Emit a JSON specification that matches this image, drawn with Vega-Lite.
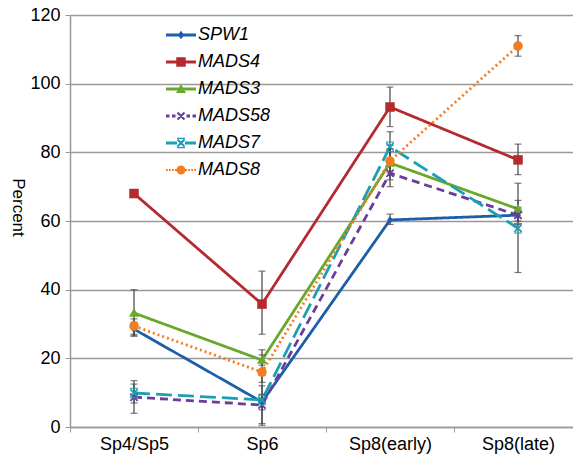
{
  "$schema": "https://vega.github.io/schema/vega-lite/v6.json",
  "autosize": {"type": "none"},
  "padding": {"left": 70, "top": 15, "right": 0, "bottom": 27},
  "width": 503,
  "height": 412,
  "background": "white",
  "config": {"font": "Liberation Sans", "view": {"stroke": null}, "legend": {"symbolOpacity": 1, "symbolStrokeWidth": 0}},
  "data": {"values": [
    {"gene": "SPW1", "stage": "Sp4/Sp5", "v": 28.5, "lo": 26.5, "hi": 30.5},
    {"gene": "SPW1", "stage": "Sp6", "v": 7.3, "lo": 5, "hi": 9.5},
    {"gene": "SPW1", "stage": "Sp8(early)", "v": 60.3, "lo": 59, "hi": 62},
    {"gene": "SPW1", "stage": "Sp8(late)", "v": 61.7, "lo": 60, "hi": 63.5},
    {"gene": "MADS4", "stage": "Sp4/Sp5", "v": 68, "lo": 67, "hi": 69},
    {"gene": "MADS4", "stage": "Sp6", "v": 35.8, "lo": 27, "hi": 45.4},
    {"gene": "MADS4", "stage": "Sp8(early)", "v": 93.2, "lo": 87.5, "hi": 99},
    {"gene": "MADS4", "stage": "Sp8(late)", "v": 77.8, "lo": 73.5, "hi": 82.4},
    {"gene": "MADS3", "stage": "Sp4/Sp5", "v": 33.2, "lo": 26.5, "hi": 40},
    {"gene": "MADS3", "stage": "Sp6", "v": 19.5, "lo": 18, "hi": 21},
    {"gene": "MADS3", "stage": "Sp8(early)", "v": 76.9, "lo": 72, "hi": 82},
    {"gene": "MADS3", "stage": "Sp8(late)", "v": 63.5, "lo": 61, "hi": 66},
    {"gene": "MADS58", "stage": "Sp4/Sp5", "v": 8.7, "lo": 4, "hi": 13.5},
    {"gene": "MADS58", "stage": "Sp6", "v": 6.4, "lo": 1, "hi": 12},
    {"gene": "MADS58", "stage": "Sp8(early)", "v": 73.9, "lo": 70, "hi": 78},
    {"gene": "MADS58", "stage": "Sp8(late)", "v": 61.7, "lo": 59, "hi": 64},
    {"gene": "MADS7", "stage": "Sp4/Sp5", "v": 9.9, "lo": 7, "hi": 12.5},
    {"gene": "MADS7", "stage": "Sp6", "v": 7.9, "lo": 0.5, "hi": 15},
    {"gene": "MADS7", "stage": "Sp8(early)", "v": 81.6, "lo": 77, "hi": 86},
    {"gene": "MADS7", "stage": "Sp8(late)", "v": 57.9, "lo": 45, "hi": 71},
    {"gene": "MADS8", "stage": "Sp4/Sp5", "v": 29.4, "lo": 27, "hi": 31.5},
    {"gene": "MADS8", "stage": "Sp6", "v": 16, "lo": 13, "hi": 22.5},
    {"gene": "MADS8", "stage": "Sp8(early)", "v": 77.5, "lo": 74, "hi": 81},
    {"gene": "MADS8", "stage": "Sp8(late)", "v": 111, "lo": 108, "hi": 114}
  ]},
  "encoding": {
    "x": {
      "field": "stage", "type": "nominal", "title": null,
      "sort": ["Sp4/Sp5", "Sp6", "Sp8(early)", "Sp8(late)"],
      "scale": {"type": "band", "range": [0, 512], "paddingInner": 0, "paddingOuter": 0},
      "axis": {"labelAngle": 0, "labelFontSize": 18, "labelColor": "#000", "labelPadding": 3, "domainColor": "#999", "domainWidth": 1.5, "tickColor": "#999", "tickSize": 5, "tickBand": "extent", "grid": false}
    },
    "y": {
      "field": "v", "type": "quantitative", "title": "Percent",
      "scale": {"domain": [0, 120], "nice": false, "zero": true},
      "axis": {"values": [0, 20, 40, 60, 80, 100, 120], "labelFontSize": 18, "labelColor": "#000", "labelPadding": 5, "domainColor": "#999", "domainWidth": 1.5, "tickColor": "#999", "tickSize": 5, "gridColor": "#999", "gridWidth": 1.5, "titleAngle": 90, "titleFontSize": 17, "titleFontWeight": "normal", "titleColor": "#000", "titleX": -53, "titleY": 192, "titleAlign": "center", "titleBaseline": "middle"}
    }
  },
  "layer": [
    {
      "mark": {"type": "line", "strokeWidth": 2.8},
      "encoding": {
        "color": {
          "field": "gene", "type": "nominal",
          "scale": {"domain": ["SPW1", "MADS4", "MADS3", "MADS58", "MADS7", "MADS8"], "range": ["#1d5ea8", "#b52a2e", "#6aa82d", "#6b3d98", "#1b9fb5", "#f47c20"]},
          "legend": {
            "orient": "none", "legendX": 102, "legendY": 11, "title": null,
            "symbolSize": 100, "symbolOpacity": 1, "symbolStrokeWidth": 0, "labelFontSize": 18, "labelFont": "Liberation Sans", "labelFontStyle": "italic", "labelColor": "#000", "labelOffset": 8, "rowPadding": 9, "padding": 0
          }
        },
        "strokeDash": {
          "field": "gene", "type": "nominal", "legend": null,
          "scale": {"domain": ["SPW1", "MADS4", "MADS3", "MADS58", "MADS7", "MADS8"], "range": [[1, 0], [1, 0], [1, 0], [8, 5], [16, 6], [2, 3]]}
        }
      }
    },
    {
      "mark": {"type": "errorbar", "ticks": {"size": 7}, "thickness": 1.2},
      "encoding": {
        "y": {"field": "lo", "type": "quantitative"},
        "y2": {"field": "hi"},
        "color": {"value": "#444"}
      }
    },
    {
      "transform": [{"filter": "datum.gene == 'SPW1'"}],
      "mark": {"type": "point", "filled": true, "size": 100, "opacity": 1, "shape": "M0,-0.75L0.6,0L0,0.75L-0.6,0Z"},
      "encoding": {"color": {"field": "gene", "type": "nominal", "legend": null}}
    },
    {
      "transform": [{"filter": "datum.gene == 'MADS4'"}],
      "mark": {"type": "point", "filled": true, "size": 100, "opacity": 1, "shape": "M-0.95,-0.95H0.95V0.95H-0.95Z"},
      "encoding": {"color": {"field": "gene", "type": "nominal", "legend": null}}
    },
    {
      "transform": [{"filter": "datum.gene == 'MADS3'"}],
      "mark": {"type": "point", "filled": true, "size": 100, "opacity": 1, "shape": "M0,-1L1,0.75H-1Z"},
      "encoding": {"color": {"field": "gene", "type": "nominal", "legend": null}}
    },
    {
      "transform": [{"filter": "datum.gene == 'MADS58'"}],
      "mark": {"type": "point", "filled": true, "size": 100, "opacity": 1, "shape": "M-0.85,-0.6L-0.6,-0.85L0.85,0.6L0.6,0.85Z M0.6,-0.85L0.85,-0.6L-0.6,0.85L-0.85,0.6Z"},
      "encoding": {"color": {"field": "gene", "type": "nominal", "legend": null}}
    },
    {
      "transform": [{"filter": "datum.gene == 'MADS7'"}],
      "mark": {"type": "point", "filled": true, "size": 100, "opacity": 1, "shape": "M-0.85,-0.6L-0.6,-0.85L0.85,0.6L0.6,0.85Z M0.6,-0.85L0.85,-0.6L-0.6,0.85L-0.85,0.6Z M-0.8,-1.05H0.8V-0.85H-0.8Z M-0.8,0.85H0.8V1.05H-0.8Z"},
      "encoding": {"color": {"field": "gene", "type": "nominal", "legend": null}}
    },
    {
      "transform": [{"filter": "datum.gene == 'MADS8'"}],
      "mark": {"type": "point", "filled": true, "size": 100, "opacity": 1, "shape": "M-0.95,0A0.95,0.95 0 1,1 0.95,0A0.95,0.95 0 1,1 -0.95,0Z"},
      "encoding": {"color": {"field": "gene", "type": "nominal", "legend": null}}
    },
    {
      "mark": {"type": "point", "filled": true, "size": 100, "opacity": 0},
      "encoding": {
        "color": {"field": "gene", "type": "nominal"},
        "shape": {
          "field": "gene", "type": "nominal",
          "scale": {"domain": ["SPW1", "MADS4", "MADS3", "MADS58", "MADS7", "MADS8"], "range": [
            "M-3,-0.3H3V0.3H-3Z M0,-0.85L0.65,0L0,0.85L-0.65,0Z",
            "M-3,-0.3H3V0.3H-3Z M-0.95,-0.95H0.95V0.95H-0.95Z",
            "M-3,-0.3H3V0.3H-3Z M0,-1L1,0.8H-1Z",
            "M-3,-0.28H-2.3V0.28H-3Z M-1.8,-0.28H-1.1V0.28H-1.8Z M1.1,-0.28H1.8V0.28H1.1Z M2.3,-0.28H3V0.28H2.3Z M-0.85,-0.55L-0.55,-0.85L0.85,0.55L0.55,0.85Z M0.55,-0.85L0.85,-0.55L-0.55,0.85L-0.85,0.55Z",
            "M-3,-0.28H-0.8V0.28H-3Z M0.8,-0.28H3V0.28H0.8Z M-0.85,-0.55L-0.55,-0.85L0.85,0.55L0.55,0.85Z M0.55,-0.85L0.85,-0.55L-0.55,0.85L-0.85,0.55Z M-0.8,-1.05H0.8V-0.8H-0.8Z M-0.8,0.8H0.8V1.05H-0.8Z",
            "M-3,-0.18H-2.65V0.18H-3Z M-2.4,-0.18H-2.05V0.18H-2.4Z M-1.8,-0.18H-1.45V0.18H-1.8Z M-1.2,-0.18H-0.85V0.18H-1.2Z M0.85,-0.18H1.2V0.18H0.85Z M1.45,-0.18H1.8V0.18H1.45Z M2.05,-0.18H2.4V0.18H2.05Z M2.65,-0.18H3V0.18H2.65Z M-0.9,0A0.9,0.9 0 1,1 0.9,0A0.9,0.9 0 1,1 -0.9,0Z"
          ]}
        }
      }
    }
  ]
}
